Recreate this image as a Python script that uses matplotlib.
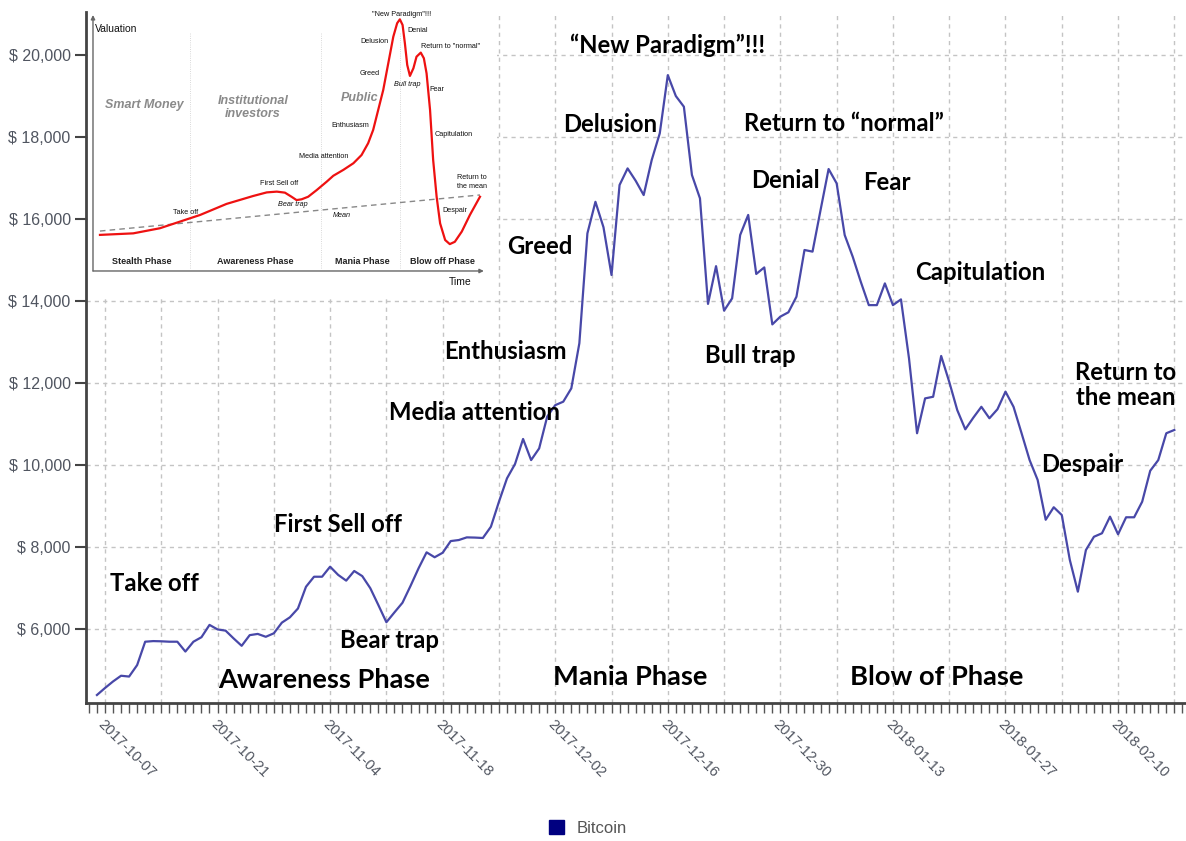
import pandas as pd
import matplotlib
matplotlib.use("Agg")
import matplotlib.pyplot as plt
import matplotlib.dates as mdates
from matplotlib.patches import Patch
from matplotlib.ticker import FuncFormatter

plt.rcParams["font.family"] = ["Liberation Sans", "DejaVu Sans"]

# Bitcoin daily price (starts 2017-10-06)
start_date = "2017-10-06"
prices = [
    4390, 4560, 4720, 4860, 4840, 5120, 5690, 5705, 5700, 5690,
    5690, 5450, 5690, 5800, 6100, 5990, 5960, 5770, 5590, 5850,
    5880, 5810, 5895, 6155, 6285, 6500, 7030, 7275, 7275, 7520,
    7320, 7180, 7415, 7290, 6995, 6585, 6165, 6405, 6640, 7050,
    7480, 7870, 7750, 7860, 8145, 8170, 8235, 8230, 8220, 8495,
    9105, 9675, 10025, 10635, 10120, 10405, 11180, 11460, 11545, 11870,
    12970, 15650, 16420, 15800, 14635, 16830, 17235, 16935, 16585, 17440,
    18090, 19510, 19000, 18740, 17075, 16505, 13930, 14850, 13765, 14065,
    15610, 16100, 14660, 14820, 13430, 13620, 13725, 14105, 15245, 15205,
    16220, 17220, 16870, 15610, 15080, 14470, 13900, 13900, 14430, 13900,
    14040, 12600, 10775, 11625, 11665, 12660, 12030, 11340, 10870, 11155,
    11420, 11140, 11360, 11790, 11420, 10775, 10120, 9635, 8665, 8970,
    8780, 7685, 6910, 7925, 8250, 8335, 8740, 8310, 8725, 8725,
    9105, 9860, 10120, 10775, 10855,
]
tick_dates = ["2017-10-07", "2017-10-21", "2017-11-04", "2017-11-18",
              "2017-12-02", "2017-12-16", "2017-12-30", "2018-01-13",
              "2018-01-27", "2018-02-10"]
y_ticks = [6000, 8000, 10000, 12000, 14000, 16000, 18000, 20000]

# stage labels on the main chart: (text, day offset from 2017-10-07, price)
stage_labels = [
    ("\u201cNew Paradigm\u201d!!!", 70.0, 20250),
    ("Delusion", 62.8, 18300),
    ("Return to \u201cnormal\u201d", 91.9, 18340),
    ("Denial", 84.6, 16950),
    ("Fear", 97.3, 16880),
    ("Greed", 54.1, 15340),
    ("Capitulation", 108.8, 14700),
    ("Enthusiasm", 49.75, 12760),
    ("Bull trap", 80.3, 12680),
    ("Return to\nthe mean", 126.9, 11950),
    ("Media attention", 46.0, 11290),
    ("Despair", 121.5, 10020),
    ("First Sell off", 29.0, 8560),
    ("Take off", 6.2, 7120),
    ("Bear trap", 35.4, 5730),
]
phase_labels = [
    ("Awareness Phase", 27.2, 4760),
    ("Mania Phase", 65.3, 4830),
    ("Blow of Phase", 103.4, 4830),
]

# inset: the classic bubble stages sketch (time 0-100, valuation 0-100)
bubble_t = [1.8, 10.4, 17.3, 22.5, 27.7, 34.5, 41.4, 44.9, 47.5, 49.6,
            51.3, 52.6, 53.9, 55.6, 57.8, 60.4, 62.1, 64.7, 67.3, 69.4,
            71.1, 72.4, 73.7, 75.0, 76.3, 77.6, 78.6, 79.3, 80.0, 80.6,
            81.2, 81.9, 82.8, 83.6, 84.7, 85.5, 86.2, 87.1, 87.9, 88.8,
            89.7, 91.0, 92.2, 93.5, 95.3, 97.4, 100.0]
bubble_v = [14.1, 14.7, 16.7, 19.3, 21.9, 26.2, 29.3, 30.7, 31.0, 30.6,
            29.0, 27.7, 28.0, 29.0, 31.6, 34.9, 37.2, 39.5, 42.1, 45.3,
            49.9, 55.1, 62.9, 70.7, 81.1, 91.5, 96.8, 98.3, 96.1, 88.9,
            80.5, 76.2, 79.2, 83.7, 85.3, 83.1, 77.2, 62.9, 43.4, 29.0,
            18.6, 12.1, 10.5, 11.4, 15.4, 21.9, 29.0]
mean_t = [1.8, 100]
mean_v = [15.6, 29.7]
phase_names = ["Stealth Phase", "Awareness Phase", "Mania Phase", "Blow off Phase"]
phase_t = [12.7, 41.9, 69.5, 90.2]
phase_breaks = [25.1, 58.9, 79.3]
inset_labels = [
    ("\"New Paradigm\"!!!", 79.8, 100.0, "normal"),
    ("Denial", 84.0, 93.8, "normal"),
    ("Delusion", 72.6, 89.8, "normal"),
    ("Return to \"normal\"", 92.5, 87.5, "normal"),
    ("Greed", 71.6, 77.3, "normal"),
    ("Bull trap", 81.1, 72.7, "italic"),
    ("Fear", 88.9, 70.7, "normal"),
    ("Enthusiasm", 66.4, 57.0, "normal"),
    ("Capitulation", 93.3, 53.5, "normal"),
    ("Media attention", 59.7, 44.9, "normal"),
    ("First Sell off", 48.1, 34.0, "normal"),
    ("Return to\nthe mean", 97.9, 34.8, "normal"),
    ("Take off", 24.0, 23.0, "normal"),
    ("Bear trap", 51.7, 25.8, "italic"),
    ("Despair", 93.5, 23.8, "normal"),
    ("Mean", 64.3, 21.5, "italic"),
]

dates = pd.date_range(start_date, periods=len(prices), freq="D")
ref = pd.Timestamp("2017-10-07")

fig = plt.figure(figsize=(11.86, 8.41), dpi=100)
ax = fig.add_axes([86 / 1186, 1 - 703 / 841, 1100 / 1186, 691 / 841])

ax.plot(dates, prices, color="#4848a8", lw=1.6, zorder=3)

ax.set_xlim(ref - pd.Timedelta(days=2.36), ref + pd.Timedelta(days=134.45))
ax.set_ylim(4195, 21050)

# grid: weekly verticals, every $2,000 horizontals
grid_kw = dict(color="#c4c4c4", lw=1.0, ls=(0, (3, 3)), zorder=1)
for d in pd.date_range(ref, periods=20, freq="7D"):
    ax.axvline(d, **grid_kw)
for v in y_ticks:
    ax.axhline(v, **grid_kw)

ax.set_yticks(y_ticks)
ax.yaxis.set_major_formatter(FuncFormatter(lambda v, p: f"$ {int(v):,}"))
ax.tick_params(axis="y", direction="out", length=8, width=1.5, color="#444444",
               labelsize=11.5, labelcolor="#505560", pad=3)

ax.set_xticks(pd.to_datetime(tick_dates))
ax.set_xticklabels(tick_dates)
ax.xaxis.set_minor_locator(mdates.DayLocator())
ax.tick_params(axis="x", which="both", direction="out", length=7, width=1.0,
               color="#555555", labelsize=10.5, labelcolor="#505560")
for lab in ax.get_xticklabels():
    lab.set_rotation(-45)
    lab.set_ha("left")
    lab.set_va("top")
    lab.set_rotation_mode("anchor")

for s in ["top", "right"]:
    ax.spines[s].set_visible(False)
for s in ["left", "bottom"]:
    ax.spines[s].set_color("#444444")
    ax.spines[s].set_linewidth(2)

for text, d, v in stage_labels:
    ax.text(ref + pd.Timedelta(days=d), v, text, ha="center", va="center",
            fontsize=17.2, fontweight="bold", family="Lato", color="black",
            linespacing=1.15, zorder=4)
for text, d, v in phase_labels:
    ax.text(ref + pd.Timedelta(days=d), v, text, ha="center", va="center",
            fontsize=19.6, fontweight="bold", family="Lato", color="black",
            zorder=4)

fig.legend(handles=[Patch(facecolor="#000080", edgecolor="#000080")],
           labels=["Bitcoin"], loc="center", bbox_to_anchor=(588 / 1186, 1 - 828 / 841),
           frameon=False, fontsize=12, handlelength=0.9, handleheight=0.9,
           labelcolor="#555555")

# inset sketch
ins = fig.add_axes([88 / 1186, 1 - 296 / 841, 409 / 1186, 286 / 841], zorder=5)
ins.set_facecolor("white")
ins.set_xlim(-1.29, 104.4)
ins.set_ylim(-9.77, 101.95)
ins.set_xticks([])
ins.set_yticks([])
for s in ins.spines.values():
    s.set_visible(False)

ins.plot(bubble_t, bubble_v, color="#ee1111", lw=1.6, zorder=3,
         solid_joinstyle="round")
ins.plot(mean_t, mean_v, color="#888888", lw=1.0, ls=(0, (4, 3)), zorder=2)
for t in phase_breaks:
    ins.plot([t, t], [1.2, 93], color="#cccccc", lw=0.6, ls=":", zorder=1)
ins.annotate("", xy=(0, 100), xytext=(0, 0),
             arrowprops=dict(arrowstyle="-|>", color="#666666", lw=1.0,
                             mutation_scale=6, shrinkA=0, shrinkB=0))
ins.annotate("", xy=(101, 0), xytext=(0, 0),
             arrowprops=dict(arrowstyle="-|>", color="#666666", lw=1.0,
                             mutation_scale=6, shrinkA=0, shrinkB=0))
ins.text(0.5, 94.5, "Valuation", ha="left", va="center", fontsize=7.5,
         color="#111111")
ins.text(94.8, -4.3, "Time", ha="center", va="center", fontsize=7.5,
         color="#111111")
for name, t in zip(phase_names, phase_t):
    ins.text(t, 3.9, name, ha="center", va="center", fontsize=6.5,
             color="#222222", fontweight="bold")
ins.text(13.2, 64.8, "Smart Money", ha="center", va="center", fontsize=9,
         style="italic", fontweight="bold", color="#8a8a8a")
ins.text(41.3, 64.0, "Institutional\ninvestors", ha="center", va="center", fontsize=9,
         style="italic", fontweight="bold", color="#8a8a8a", linespacing=1.1)
ins.text(69.0, 67.6, "Public", ha="center", va="center", fontsize=9,
         style="italic", fontweight="bold", color="#8a8a8a")
for text, t, v, st in inset_labels:
    ins.text(t, v, text, ha="center", va="center", fontsize=5.2, style=st,
             color="#111111", linespacing=1.3)

fig.savefig("out.png", dpi=100, facecolor="white")
